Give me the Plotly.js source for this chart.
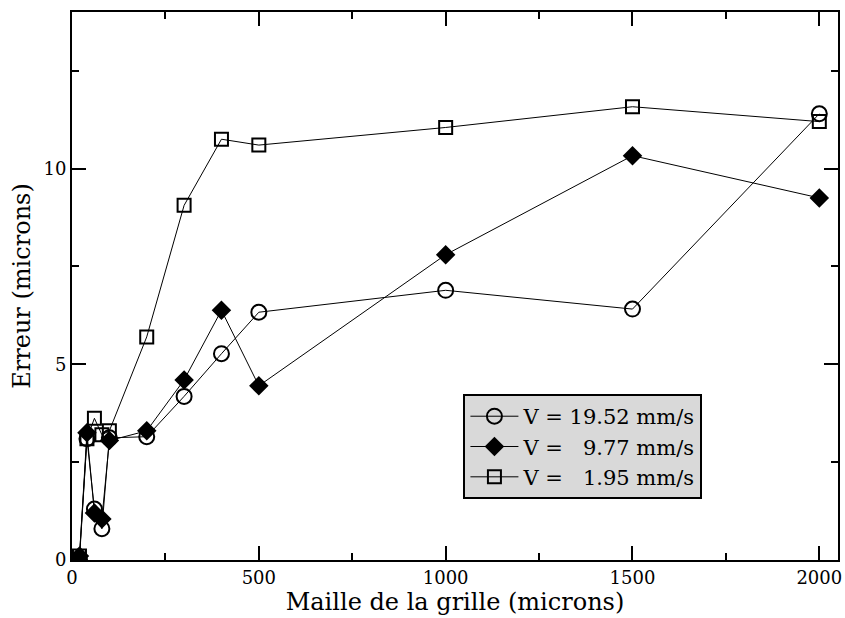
<!DOCTYPE html>
<html>
<head>
<meta charset="utf-8">
<script src="https://cdn.plot.ly/plotly-3.0.1.min.js"></script>
<style>html,body{margin:0;padding:0;background:#fff;}#plot{width:845px;height:618px;}</style>
</head>
<body>
<div id="plot"></div>
<script>
const grid = [20, 40, 60, 80, 100, 200, 300, 400, 500, 1000, 1500, 2000];
const errV1952 = [0.02, 3.1, 1.3, 0.8, 3.12, 3.15, 4.18, 5.27, 6.33, 6.89, 6.41, 11.4];
const errV977  = [0.1, 3.25, 1.2, 1.05, 3.05, 3.3, 4.6, 6.38, 4.45, 7.8, 10.33, 9.25];
const errV195  = [0.1, 3.1, 3.62, 3.2, 3.3, 5.7, 9.06, 10.75, 10.6, 11.05, 11.58, 11.2];
const names = ["V = 19.52 mm/s", "V = \u20079.77 mm/s", "V = \u20071.95 mm/s"];

const serif = "'DejaVu Serif', 'Liberation Serif', serif";
const traces = [
  {x: grid, y: errV1952, name: names[0], mode: "lines+markers",
   line: {color: "black", width: 1},
   marker: {symbol: "circle-open", size: 15, color: "black", line: {width: 2, color: "black"}}},
  {x: grid, y: errV977, name: names[1], mode: "lines+markers",
   line: {color: "black", width: 1},
   marker: {symbol: "diamond", size: 15, color: "black", line: {width: 0}}},
  {x: grid, y: errV195, name: names[2], mode: "lines+markers",
   line: {color: "black", width: 1},
   marker: {symbol: "square-open", size: 13, color: "black", line: {width: 2, color: "black"}}}
];

const axisCommon = {
  showgrid: false, zeroline: false, showline: true, linecolor: "black", linewidth: 2,
  mirror: "allticks", ticks: "inside", ticklen: 14, tickwidth: 2, tickcolor: "black",
  tickfont: {family: serif, size: 18, color: "black"}
};

const layout = {
  width: 845, height: 618,
  margin: {l: 72, r: 7, t: 12, b: 58},
  paper_bgcolor: "white", plot_bgcolor: "white",
  showlegend: true,
  legend: {x: 0.511, y: 0.207, xanchor: "left", yanchor: "middle",
           bgcolor: "#d9d9d9", bordercolor: "black", borderwidth: 2,
           font: {family: serif, size: 21, color: "black"}, itemwidth: 48,
           tracegroupgap: 0},
  xaxis: Object.assign({}, axisCommon, {
    range: [0, 2050], dtick: 500, tick0: 0,
    minor: {dtick: 250, ticks: "inside", ticklen: 7, tickwidth: 2, tickcolor: "black", showgrid: false},
    title: {text: "Maille de la grille (microns)", font: {family: serif, size: 24, color: "black"}, standoff: 2}
  }),
  yaxis: Object.assign({}, axisCommon, {
    range: [0, 14], dtick: 5, tick0: 0,
    minor: {dtick: 2.5, ticks: "inside", ticklen: 7, tickwidth: 2, tickcolor: "black", showgrid: false},
    title: {text: "Erreur (microns)", font: {family: serif, size: 24, color: "black"}, standoff: 6}
  })
};

Plotly.newPlot("plot", traces, layout, {displayModeBar: false, staticPlot: true});
</script>
</body>
</html>
